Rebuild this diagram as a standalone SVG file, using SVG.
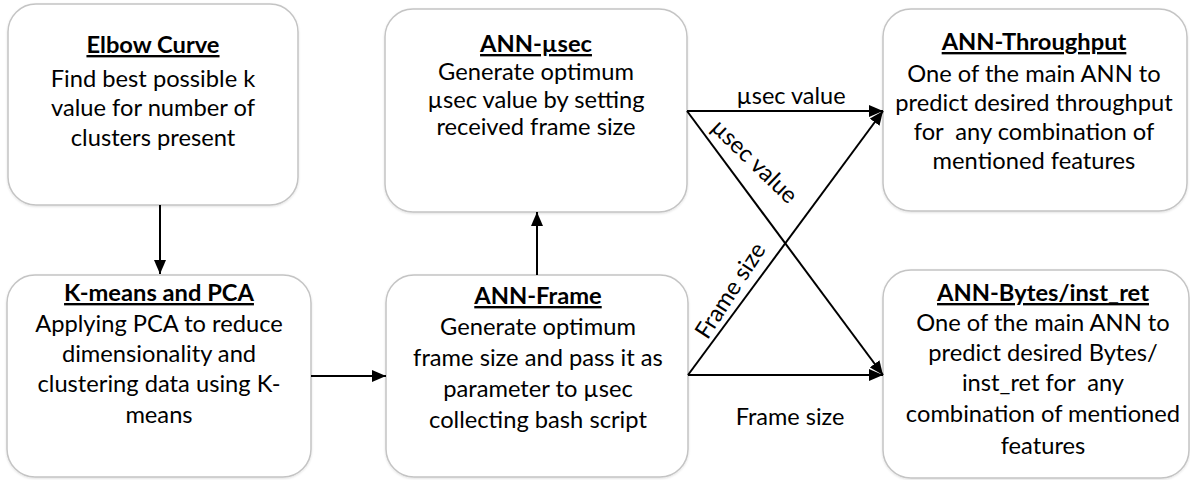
<svg xmlns="http://www.w3.org/2000/svg" width="1190" height="480" viewBox="0 0 1190 480">
  <style>
    .box { fill: #ffffff; stroke: #c4c4c4; stroke-width: 1.5; }
    .title { font-family: Lato, "Liberation Sans", sans-serif; font-size: 23.7px; font-weight: bold; text-decoration: underline; fill: #000; text-anchor: middle; }
    .body { font-family: Lato, "Liberation Sans", sans-serif; font-size: 23.7px; fill: #000; text-anchor: middle; }
    .lbl { font-family: Lato, "Liberation Sans", sans-serif; font-size: 23.5px; fill: #000; text-anchor: middle; }
    .edge { stroke: #000; stroke-width: 2; fill: none; }
  </style>
  <defs>
    <marker id="arrow" viewBox="0 0 14 12" refX="14" refY="6" markerWidth="14" markerHeight="12" markerUnits="userSpaceOnUse" orient="auto">
      <path d="M0,0 L14,6 L0,12 Z" fill="#000"/>
    </marker>
    <filter id="soft" x="-5%" y="-5%" width="110%" height="110%">
      <feDropShadow dx="0" dy="1" stdDeviation="1.2" flood-color="#000" flood-opacity="0.12"/>
    </filter>
  </defs>

  <rect width="1190" height="480" fill="#ffffff"/>

  <!-- nodes -->
  <g id="elbow-curve">
    <rect class="box" x="8" y="4" width="290" height="201" rx="28" filter="url(#soft)"/>
    <text class="title" x="153" y="53">Elbow Curve</text>
    <text class="body" x="153" y="87">Find best possible k</text>
    <text class="body" x="153" y="116">value for number of</text>
    <text class="body" x="153" y="146">clusters present</text>
  </g>

  <g id="ann-usec">
    <rect class="box" x="385" y="9" width="302" height="203" rx="28" filter="url(#soft)"/>
    <text class="title" x="536" y="52">ANN-µsec</text>
    <text class="body" x="536" y="80">Generate optimum</text>
    <text class="body" x="536" y="108">µsec value by setting</text>
    <text class="body" x="536" y="135">received frame size</text>
  </g>

  <g id="ann-throughput">
    <rect class="box" x="883" y="9" width="304" height="202" rx="28" filter="url(#soft)"/>
    <text class="title" x="1034" y="50">ANN-Throughput</text>
    <text class="body" x="1034" y="82">One of the main ANN to</text>
    <text class="body" x="1034" y="111">predict desired throughput</text>
    <text class="body" x="1034" y="140" xml:space="preserve">for  any combination of</text>
    <text class="body" x="1034" y="169">mentioned features</text>
  </g>

  <g id="kmeans-pca">
    <rect class="box" x="7" y="275" width="304" height="202" rx="28" filter="url(#soft)"/>
    <text class="title" x="159" y="301">K-means and PCA</text>
    <text class="body" x="159" y="332">Applying PCA to reduce</text>
    <text class="body" x="159" y="362">dimensionality and</text>
    <text class="body" x="159" y="392">clustering data using K-</text>
    <text class="body" x="159" y="423">means</text>
  </g>

  <g id="ann-frame">
    <rect class="box" x="386" y="275" width="302" height="202" rx="28" filter="url(#soft)"/>
    <text class="title" x="538" y="304">ANN-Frame</text>
    <text class="body" x="538" y="335">Generate optimum</text>
    <text class="body" x="538" y="366">frame size and pass it as</text>
    <text class="body" x="538" y="397">parameter to µsec</text>
    <text class="body" x="538" y="428">collecting bash script</text>
  </g>

  <g id="ann-bytes">
    <rect class="box" x="883" y="270" width="306" height="208" rx="28" filter="url(#soft)"/>
    <text class="title" x="1043" y="301">ANN-Bytes/inst_ret</text>
    <text class="body" x="1043" y="331">One of the main ANN to</text>
    <text class="body" x="1043" y="361">predict desired Bytes/</text>
    <text class="body" x="1043" y="391" xml:space="preserve">inst_ret for  any</text>
    <text class="body" x="1043" y="422">combination of mentioned</text>
    <text class="body" x="1043" y="454">features</text>
  </g>

  <!-- connectors -->
  <g id="connectors">
    <line class="edge" x1="160" y1="205" x2="160" y2="274" marker-end="url(#arrow)"/>
    <line class="edge" x1="311" y1="376" x2="386" y2="376" marker-end="url(#arrow)"/>
    <line class="edge" x1="537" y1="275" x2="537" y2="212" marker-end="url(#arrow)"/>
    <line class="edge" x1="687" y1="111" x2="883" y2="111" marker-end="url(#arrow)"/>
    <line class="edge" x1="687" y1="111" x2="883" y2="375" marker-end="url(#arrow)"/>
    <line class="edge" x1="688" y1="375" x2="883" y2="111" marker-end="url(#arrow)"/>
    <line class="edge" x1="688" y1="375" x2="883" y2="375" marker-end="url(#arrow)"/>

    <text class="lbl" x="791" y="104">µsec value</text>
    <text class="lbl" transform="translate(749,167) rotate(44)">µsec value</text>
    <text class="lbl" transform="translate(737,295) rotate(-57)">Frame size</text>
    <text class="lbl" x="790" y="425">Frame size</text>
  </g>
</svg>
